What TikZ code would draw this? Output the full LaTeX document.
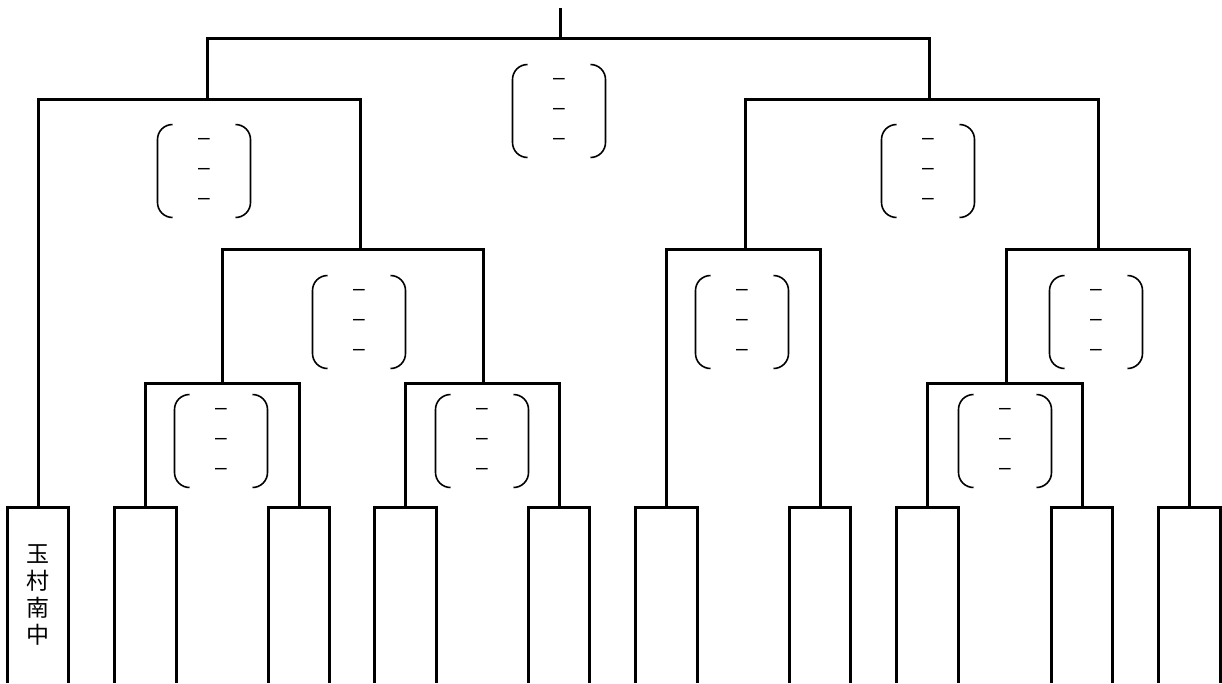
\documentclass[tikz,border=0pt]{standalone}
\usepackage{fontspec}
\setmainfont{Liberation Sans}
\newfontfamily\jpfont{Noto Sans CJK JP}
\usetikzlibrary{positioning}

\begin{document}
\begin{tikzpicture}[x=1pt, y=-1pt, line width=3pt,
  team/.style={minimum width=61.5pt, minimum height=176pt, inner sep=0pt, outer sep=0pt, align=center, font=\jpfont\fontsize{23}{27}\selectfont},
  score/.style={minimum width=93pt, minimum height=93pt, inner sep=0pt, outer sep=0pt, align=center, font=\fontsize{21}{30}\selectfont},
  paren/.style={line width=1.6pt, rounded corners=15pt}]
\useasboundingbox (0,0) rectangle (1222,683);

\node[team, anchor=north west] (b1) at (7.25,507) {玉\\村\\南\\中};
\node[team, right=46pt of b1] (b2) {};
\node[team, right=92pt of b2] (b3) {};
\node[team, right=45pt of b3] (b4) {};
\node[team, right=92pt of b4] (b5) {};
\node[team, right=46pt of b5] (b6) {};
\node[team, right=92pt of b6] (b7) {};
\node[team, right=46pt of b7] (b8) {};
\node[team, right=93pt of b8] (b9) {};
\node[team, right=46pt of b9] (b10) {};
\foreach \i in {1,...,10}
  \draw (b\i.south west) -- (b\i.north west) -- (b\i.north east) -- (b\i.south east);

\node[score] (s1) at (559,111) {–\\–\\–};
\node[score] (s2) at (204,171) {–\\–\\–};
\node[score] (s3) at (928,171) {–\\–\\–};
\node[score] (s4) at (359,322) {–\\–\\–};
\node[score] (s5) at (742,322) {–\\–\\–};
\node[score] (s6) at (1096,322) {–\\–\\–};
\node[score] (s7) at (221,441) {–\\–\\–};
\node[score] (s8) at (482,441) {–\\–\\–};
\node[score] (s9) at (1005,441) {–\\–\\–};
\foreach \i in {1,...,9} {
  \draw[paren] ([xshift=15pt]s\i.north west) -- (s\i.north west) -- (s\i.south west) -- ([xshift=15pt]s\i.south west);
  \draw[paren] ([xshift=-15pt]s\i.north east) -- (s\i.north east) -- (s\i.south east) -- ([xshift=-15pt]s\i.south east);
}

\coordinate (m1) at (222,383);
\coordinate (m2) at (483,383);
\coordinate (m3) at (360,249);
\coordinate (m4) at (207,99);
\coordinate (m5) at (1006,383);
\coordinate (m6) at (745,249);
\coordinate (m7) at (1098,249);
\coordinate (m8) at (929,99);
\coordinate (m9) at (560,38);
\coordinate (top) at (560,8);

\draw (b2.north) |- (m1) -| (b3.north);
\draw (b4.north) |- (m2) -| (b5.north);
\draw (m1) |- (m3) -| (m2);
\draw (b1.north) |- (m4) -| (m3);
\draw (b8.north) |- (m5) -| (b9.north);
\draw (b6.north) |- (m6) -| (b7.north);
\draw (m5) |- (m7) -| (b10.north);
\draw (m6) |- (m8) -| (m7);
\draw (m4) |- (m9) -| (m8);
\draw (m9) -- (top);
\end{tikzpicture}
\end{document}
